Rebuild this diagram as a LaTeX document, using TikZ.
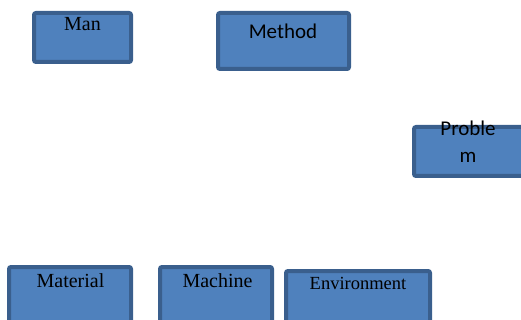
\documentclass[tikz,border=0pt]{standalone}
\usepackage{fontspec}
\setmainfont{Liberation Serif}
\newfontfamily\calib{Carlito}
\definecolor{boxfill}{HTML}{4F81BD}
\definecolor{boxline}{HTML}{3A5F8D}
\begin{document}
\begin{tikzpicture}[x=1pt,y=-1pt,
  box/.style={draw=boxline,fill=boxfill,line width=4pt,rounded corners=2pt,inner sep=0pt,anchor=center},
  lbl/.style={anchor=base,inner sep=0pt,text=black}]
\useasboundingbox (0,0) rectangle (521,320);
\clip (0,0) rectangle (521,320);
\node[box,minimum width=97pt,minimum height=49pt] (man) at (82.5,37.5) {};
\node[box,minimum width=131pt,minimum height=56pt] (method) at (283.5,41) {};
\node[box,minimum width=109pt,minimum height=49pt] (problem) at (468.5,151.5) {};
\node[box,minimum width=122pt,minimum height=58pt] (material) at (70,296) {};
\node[box,minimum width=112pt,minimum height=58pt] (machine) at (216,296) {};
\node[box,minimum width=144pt,minimum height=54pt] (environment) at (358,298) {};
\node[lbl,font=\fontsize{20}{24}\selectfont] (tman) at (82.5,31) {Man};
\node[lbl,font=\calib\fontsize{21}{25}\selectfont] (tmethod) at (283,39) {Method};
\node[lbl,font=\calib\fontsize{21}{25}\selectfont] (tprob1) at (468,136) {Proble};
\node[lbl,font=\calib\fontsize{21}{25}\selectfont] (tprob2) at (468,163) {m};
\node[lbl,font=\fontsize{20}{24}\selectfont] (tmaterial) at (70.5,287) {Material};
\node[lbl,font=\fontsize{20}{24}\selectfont] (tmachine) at (217.5,287) {Machine};
\node[lbl,font=\fontsize{18.5}{22}\selectfont] (tenv) at (358,289) {Environment};
\end{tikzpicture}
\end{document}
